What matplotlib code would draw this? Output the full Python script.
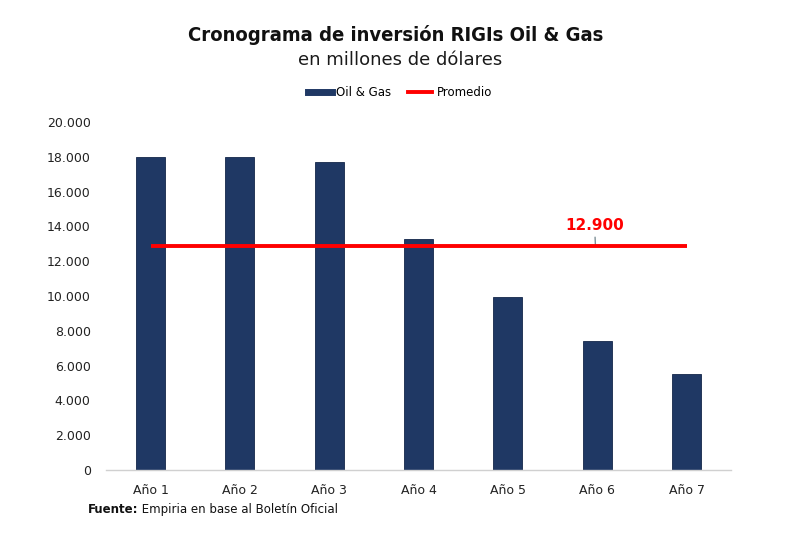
import matplotlib
matplotlib.use("Agg")
import matplotlib.pyplot as plt
from matplotlib.lines import Line2D

categories = ["Año 1", "Año 2", "Año 3", "Año 4", "Año 5", "Año 6", "Año 7"]
oil_gas = [18000, 18000, 17700, 13300, 9950, 7400, 5500]
promedio = 12900
yticks = [0, 2000, 4000, 6000, 8000, 10000, 12000, 14000, 16000, 18000, 20000]
ytick_labels = ["0", "2.000", "4.000", "6.000", "8.000", "10.000", "12.000",
                "14.000", "16.000", "18.000", "20.000"]

FONT = ["DejaVu Sans"]
plt.rcParams['font.family'] = FONT

NAVY = "#1F3864"
RED = "#FF0000"

fig = plt.figure(figsize=(8.0, 5.34), dpi=100)
ax = fig.add_axes([0.1325, 0.12, 0.9140 - 0.1325, 0.7715 - 0.12])

x = list(range(len(categories)))
ax.bar(x, oil_gas, width=0.325, color=NAVY, edgecolor="#14264a", linewidth=0.6, zorder=2)
ax.plot([x[0], x[-1]], [promedio, promedio], color=RED, linewidth=2.8, zorder=3,
        solid_capstyle="butt")

ax.set_xlim(-0.5, 6.5)
ax.set_ylim(0, 20000)
ax.set_yticks(yticks)
ax.set_yticklabels(ytick_labels, fontsize=9, color="#222222")
ax.set_xticks(x)
ax.set_xticklabels(categories, fontsize=9, color="#222222")
ax.tick_params(axis="both", length=0)
ax.tick_params(axis="y", pad=11)
ax.tick_params(axis="x", pad=10)
for s in ["top", "right", "left"]:
    ax.spines[s].set_visible(False)
ax.spines["bottom"].set_color("#d0d0d0")
ax.spines["bottom"].set_linewidth(1.0)

# average label with leader line
ax.annotate(f"{promedio:,}".replace(",", "."), xy=(4.98, promedio), xytext=(4.97, promedio + 1150),
            ha="center", va="center", fontsize=11, fontweight="bold", color=RED,
            arrowprops=dict(arrowstyle="-", color="#7f9097", lw=1.0, shrinkA=1, shrinkB=0),
            zorder=2.5)

fig.text(0.495, 0.935, "Cronograma de inversión RIGIs Oil & Gas", ha="center", va="center",
         fontsize=14.5, fontweight="bold", color="#111111", fontstretch="condensed")
fig.text(0.5, 0.888, "en millones de dólares", ha="center", va="center",
         fontsize=13, color="#1a1a1a")

handles = [Line2D([0], [0], color=NAVY, linewidth=5),
           Line2D([0], [0], color=RED, linewidth=2.8)]
fig.legend(handles, ["Oil & Gas", "Promedio"], loc="center", bbox_to_anchor=(0.5, 0.826),
           ncol=2, frameon=False, fontsize=8.5, handlelength=2.0, handletextpad=0.4,
           columnspacing=1.4)

t1 = fig.text(0.11, 0.045, "Fuente:", ha="left", va="center", fontsize=8.5,
              fontweight="bold", color="#111111")
t2 = fig.text(0.2, 0.045, " Empiria en base al Boletín Oficial", fontsize=8.5,
              color="#111111", ha="left", va="center")
fig.canvas.draw()
bb = t1.get_window_extent()
t2.set_position((bb.x1 / fig.bbox.width, 0.045))

fig.savefig("out.png", dpi=100, facecolor="white")
